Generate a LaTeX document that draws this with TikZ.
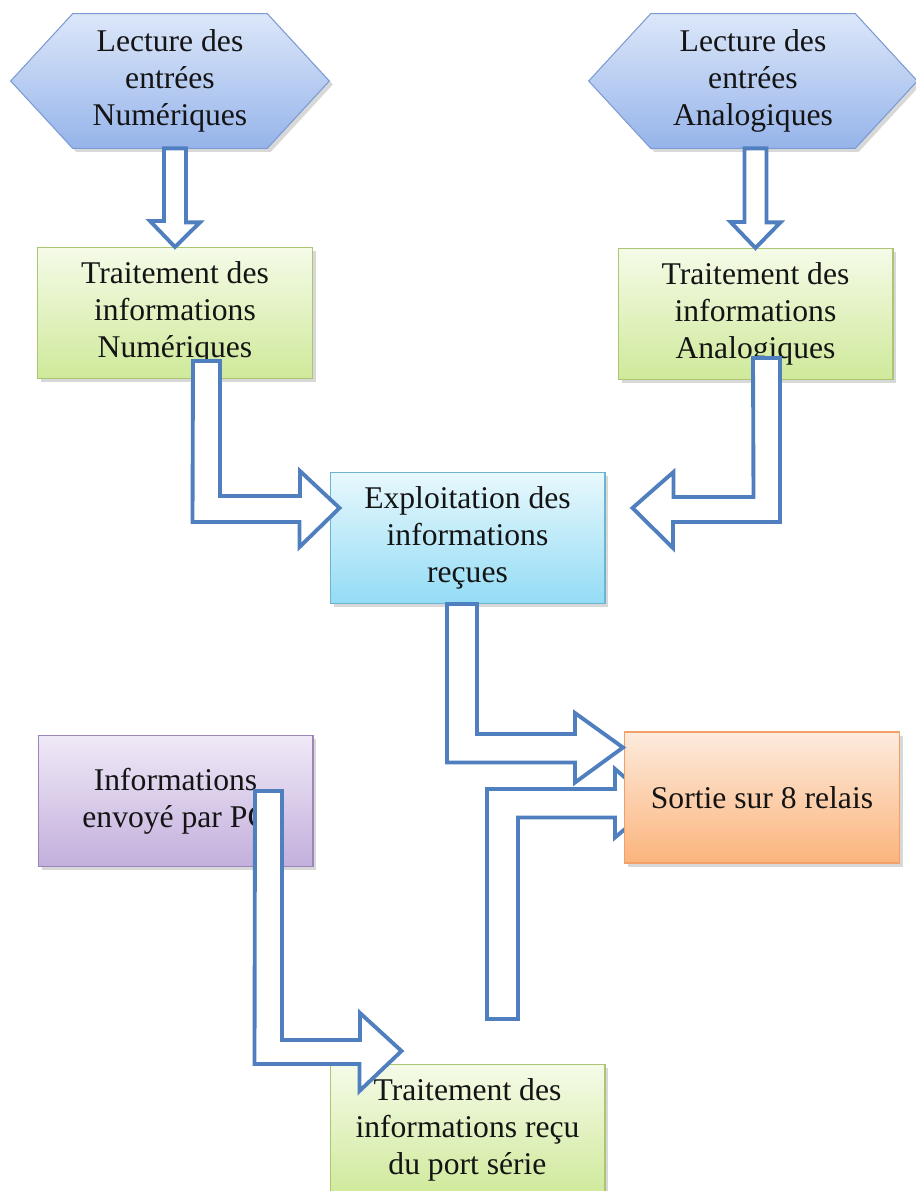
\documentclass[tikz,border=0pt]{standalone}
\usepackage{fontspec}
\setmainfont{Liberation Serif}
\usetikzlibrary{calc,shadows,backgrounds}
\definecolor{arrowc}{HTML}{4F7FBF}
\definecolor{hexT}{HTML}{DCE7F9}
\definecolor{hexB}{HTML}{96B4EA}
\definecolor{hexD}{HTML}{7B9BD2}
\definecolor{grnT}{HTML}{F5FBE8}
\definecolor{grnB}{HTML}{CFE99A}
\definecolor{grnD}{HTML}{ABC673}
\definecolor{cyaT}{HTML}{E8F8FD}
\definecolor{cyaB}{HTML}{93DCF5}
\definecolor{cyaD}{HTML}{6CB4D0}
\definecolor{orgT}{HTML}{FDEBDD}
\definecolor{orgB}{HTML}{FBB47C}
\definecolor{orgD}{HTML}{F0A068}
\definecolor{purT}{HTML}{F0E9F7}
\definecolor{purB}{HTML}{C3AFDC}
\definecolor{purD}{HTML}{9A86B8}
\begin{document}
\begin{tikzpicture}[x=0.02cm,y=-0.02cm,
  txt/.style={font=\fontsize{18}{21}\selectfont, align=center, text=black!92},
  shad/.style={drop shadow={shadow xshift=2pt, shadow yshift=-2pt, opacity=0.22, fill=black!70}},
  box/.style={txt, rectangle, draw, line width=0.6pt, minimum width=5.5cm, minimum height=2.62cm, inner sep=0pt, shad},
  greenbox/.style={box, draw=grnD, top color=grnT, bottom color=grnB},
  cyanbox/.style={box, draw=cyaD, top color=cyaT, bottom color=cyaB},
  orangebox/.style={box, draw=orgD, top color=orgT, bottom color=orgB},
  purplebox/.style={box, draw=purD, top color=purT, bottom color=purB},
  hextext/.style={txt, rectangle, minimum height=2.68cm, inner sep=0pt},
  hexfill/.style={draw=hexD, line width=0.6pt, top color=hexT, bottom color=hexB, shad},
  barrow/.style={draw=arrowc, line width=2.2pt, fill=white, line join=miter}
]
\useasboundingbox (0,0) rectangle (916,1191);

% nodes
\node[hextext, minimum width=6.36cm] (hex1) at (170,81) {Lecture des\\entrées\\Numériques};
\node[hextext, minimum width=6.56cm] (hex2) at (753,81) {Lecture des\\entrées\\Analogiques};
\node[greenbox] (g1) at (175,313) {Traitement des\\informations\\Numériques};
\node[greenbox] (g2) at (755.5,314) {Traitement des\\informations\\Analogiques};
\node[cyanbox] (ex) at (467.5,538) {Exploitation des\\informations\\reçues};
\node[orangebox] (so) at (762,797.5) {Sortie sur 8 relais};
\node[purplebox] (pu) at (175.5,801) {Informations\\envoyé par PC};
\node[greenbox] (pt) at (467.5,1130) {Traitement des\\informations reçu\\du port série};

% hexagon backgrounds and the arrow hidden under the output box
\begin{scope}[on background layer]
  \foreach \h in {hex1,hex2}{
    \path[hexfill] (\h.west) -- ($(\h.north west)+(62,0)$) -- ($(\h.north east)+(-62,0)$)
      -- (\h.east) -- ($(\h.south east)+(-62,0)$) -- ($(\h.south west)+(62,0)$) -- cycle;
  }
  \draw[barrow] ($(pt.north)+(19.5,-45)$) -- ++(0,-230) -- ++(128,0) -- ++(0,-20)
    -- ($(so.west)+(31,6)$) -- ++(-40,34) -- ++(0,-20) -- ++(-97,0)
    -- ($(pt.north)+(50.5,-45)$) -- cycle;
\end{scope}

% block arrows
\draw[barrow] ($(g1.north|-hex1.south)+(-11,0)$) -- ++(22,0) -- ++(0,74) -- ++(14,0)
  -- (g1.north) -- ++(-25,-26) -- ++(14,0) -- cycle;
\draw[barrow] ($(g2.north|-hex2.south)+(-11,0)$) -- ++(22,0) -- ++(0,74) -- ++(14,0)
  -- (g2.north) -- ++(-25,-26) -- ++(14,0) -- cycle;
\draw[barrow] ($(g1.south)+(18,-18)$) -- ++(27,0) -- ++(0,135) -- ++(80,0) -- ++(0,-25)
  -- ($(ex.west)+(10,-30)$) -- ++(-40,39) -- ++(0,-25) -- ++(-107,0) -- cycle;
\draw[barrow] ($(g2.south)+(-2.5,-22)$) -- ++(27,0) -- ++(0,164) -- ++(-107,0) -- ++(0,26)
  -- ($(ex.east)+(27,-30)$) -- ++(41,-36) -- ++(0,25) -- ++(80,0) -- cycle;
\draw[barrow] ($(ex.south)+(-20.5,0)$) -- ++(30,0) -- ++(0,130) -- ++(98,0) -- ++(0,-21)
  -- ($(so.west)+(-1,-50)$) -- ++(-48,35) -- ++(0,-20) -- ++(-128,0) -- cycle;
\draw[barrow] ($(pu.center)+(79.5,-10)$) -- ++(27,0) -- ++(0,249) -- ++(78,0) -- ++(0,-27)
  -- ($(pt.north west)+(72,-13)$) -- ++(-42,40) -- ++(0,-27) -- ++(-105,0) -- cycle;
\end{tikzpicture}
\end{document}
